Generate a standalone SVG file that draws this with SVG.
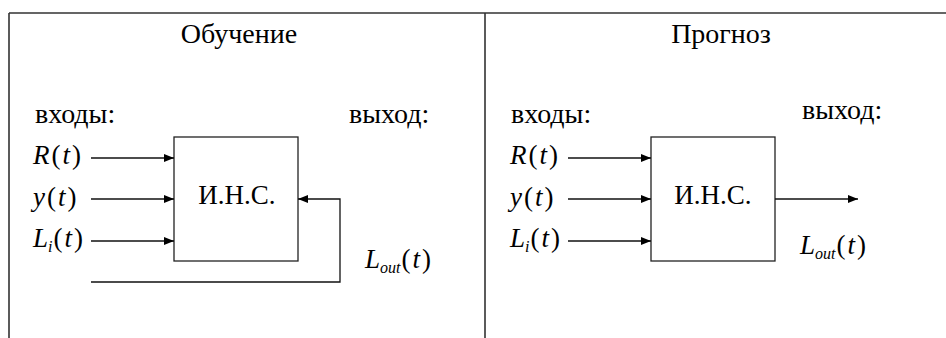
<svg xmlns="http://www.w3.org/2000/svg" width="946" height="338" viewBox="0 0 946 338">
<style>
text{font-family:"Liberation Serif","Times New Roman",serif;fill:#000}
.t{font-size:28px;text-anchor:middle}
.l{font-size:28px}
.m{font-size:27px}
.i{font-style:italic}
.s{font-size:16px;font-style:italic}
.b{fill:#fff;stroke:#222;stroke-width:1.3}
.c{fill:none;stroke:#111;stroke-width:1.3}
.f{fill:none;stroke:#333;stroke-width:1.6}
</style>
<defs>
<marker id="ah" markerWidth="11" markerHeight="9" refX="10" refY="4.5" orient="auto" markerUnits="userSpaceOnUse">
<path d="M0,0.5 L10,4.5 L0,8.5 Z" fill="#000"/>
</marker>
</defs>
<g id="frame">
<path class="f" d="M9,13 H946 M9,13 V338 M485,13 V338"/>
</g>
<g id="left-panel">
<text class="t" x="239" y="43">Обучение</text>
<text class="l" x="35" y="123">входы:</text>
<text class="l" x="349" y="123">выход:</text>
<g id="ins-left"><rect class="b" x="174" y="137" width="124" height="124"/><text class="m" x="237" y="204" text-anchor="middle">И.Н.С.</text></g>
<text class="m" x="33" y="164"><tspan class="i">R</tspan><tspan dx="2">(</tspan><tspan class="i" dx="2">t</tspan><tspan dx="2">)</tspan></text>
<text class="m" x="33" y="206"><tspan class="i">y</tspan><tspan dx="2">(</tspan><tspan class="i" dx="2">t</tspan><tspan dx="2">)</tspan></text>
<text class="m" x="33" y="247"><tspan class="i">L</tspan><tspan class="s" dy="5">i</tspan><tspan dy="-5" dx="1">(</tspan><tspan class="i" dx="2">t</tspan><tspan dx="2">)</tspan></text>
<text class="m" x="365" y="268"><tspan class="i">L</tspan><tspan class="s" dy="5">out</tspan><tspan dy="-5" dx="1">(</tspan><tspan class="i" dx="2">t</tspan><tspan dx="2">)</tspan></text>
</g>
<g id="right-panel">
<text class="t" x="721" y="43">Прогноз</text>
<text class="l" x="511" y="123">входы:</text>
<text class="l" x="802" y="119">выход:</text>
<g id="ins-right"><rect class="b" x="651" y="137" width="124" height="124"/><text class="m" x="713" y="204" text-anchor="middle">И.Н.С.</text></g>
<text class="m" x="510" y="164"><tspan class="i">R</tspan><tspan dx="2">(</tspan><tspan class="i" dx="2">t</tspan><tspan dx="2">)</tspan></text>
<text class="m" x="510" y="206"><tspan class="i">y</tspan><tspan dx="2">(</tspan><tspan class="i" dx="2">t</tspan><tspan dx="2">)</tspan></text>
<text class="m" x="510" y="247"><tspan class="i">L</tspan><tspan class="s" dy="5">i</tspan><tspan dy="-5" dx="1">(</tspan><tspan class="i" dx="2">t</tspan><tspan dx="2">)</tspan></text>
<text class="m" x="800" y="254"><tspan class="i">L</tspan><tspan class="s" dy="5">out</tspan><tspan dy="-5" dx="1">(</tspan><tspan class="i" dx="2">t</tspan><tspan dx="2">)</tspan></text>
</g>
<g id="connectors">
<line class="c" x1="91" y1="158" x2="174" y2="158" marker-end="url(#ah)"/>
<line class="c" x1="91" y1="199" x2="174" y2="199" marker-end="url(#ah)"/>
<line class="c" x1="91" y1="241" x2="174" y2="241" marker-end="url(#ah)"/>
<path class="c" d="M91,282 H340 V199 H298" marker-end="url(#ah)"/>
<line class="c" x1="568" y1="158" x2="651" y2="158" marker-end="url(#ah)"/>
<line class="c" x1="568" y1="199" x2="651" y2="199" marker-end="url(#ah)"/>
<line class="c" x1="568" y1="241" x2="651" y2="241" marker-end="url(#ah)"/>
<line class="c" x1="775" y1="199" x2="858" y2="199" marker-end="url(#ah)"/>
</g>
</svg>
